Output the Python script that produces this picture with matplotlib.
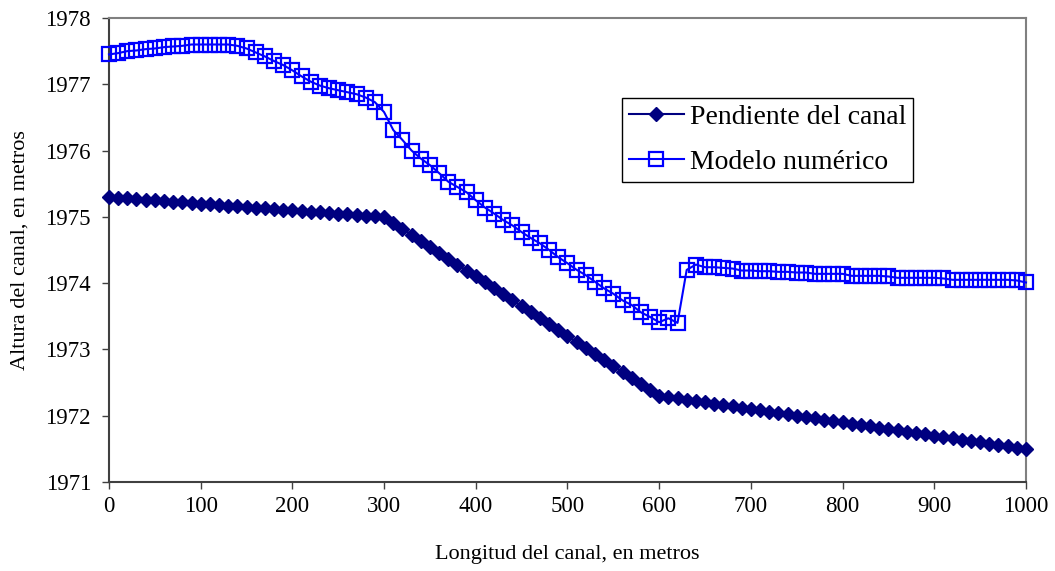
import matplotlib
matplotlib.use("Agg")
import matplotlib.pyplot as plt
import numpy as np

# longitud del canal (m), un punto cada 10 m
longitud = np.arange(0, 1001, 10)

pendiente = [
    1975.30, 1975.29, 1975.28, 1975.27, 1975.26, 1975.25, 1975.24, 1975.23, 1975.22, 1975.21,
    1975.20, 1975.19, 1975.18, 1975.17, 1975.16, 1975.15, 1975.14, 1975.13, 1975.12, 1975.11,
    1975.10, 1975.09, 1975.08, 1975.07, 1975.06, 1975.05, 1975.04, 1975.03, 1975.02, 1975.01,
    1975.00, 1974.91, 1974.82, 1974.73, 1974.64, 1974.55, 1974.46, 1974.37, 1974.28, 1974.19,
    1974.10, 1974.01, 1973.92, 1973.83, 1973.74, 1973.65, 1973.56, 1973.47, 1973.38, 1973.29,
    1973.20, 1973.11, 1973.02, 1972.93, 1972.84, 1972.75, 1972.66, 1972.57, 1972.48, 1972.39,
    1972.30, 1972.28, 1972.26, 1972.24, 1972.22, 1972.20, 1972.18, 1972.16, 1972.14, 1972.12,
    1972.10, 1972.08, 1972.06, 1972.04, 1972.02, 1972.00, 1971.98, 1971.96, 1971.94, 1971.92,
    1971.90, 1971.88, 1971.86, 1971.84, 1971.82, 1971.80, 1971.78, 1971.76, 1971.74, 1971.72,
    1971.70, 1971.68, 1971.66, 1971.64, 1971.62, 1971.60, 1971.58, 1971.56, 1971.54, 1971.52,
    1971.50,
]

modelo = [
    1977.45, 1977.47, 1977.50, 1977.51, 1977.53, 1977.54, 1977.56, 1977.57, 1977.58, 1977.60,
    1977.60, 1977.60, 1977.60, 1977.60, 1977.58, 1977.54, 1977.48, 1977.42, 1977.35, 1977.29,
    1977.21, 1977.12, 1977.04, 1976.98, 1976.94, 1976.91, 1976.88, 1976.85, 1976.80, 1976.73,
    1976.58, 1976.31, 1976.16, 1976.00, 1975.88, 1975.78, 1975.66, 1975.53, 1975.45, 1975.37,
    1975.25, 1975.14, 1975.05, 1974.95, 1974.87, 1974.77, 1974.68, 1974.60, 1974.50, 1974.39,
    1974.30, 1974.20, 1974.12, 1974.02, 1973.92, 1973.84, 1973.74, 1973.67, 1973.56, 1973.49,
    1973.41, 1973.47, 1973.40, 1974.20, 1974.28, 1974.24, 1974.24, 1974.23, 1974.22, 1974.19,
    1974.19, 1974.18, 1974.18, 1974.17, 1974.17, 1974.16, 1974.16, 1974.14, 1974.14, 1974.14,
    1974.14, 1974.11, 1974.11, 1974.11, 1974.11, 1974.10, 1974.08, 1974.08, 1974.08, 1974.08,
    1974.08, 1974.07, 1974.05, 1974.05, 1974.05, 1974.05, 1974.05, 1974.05, 1974.05, 1974.04,
    1974.01,
]

xticks = [0, 100, 200, 300, 400, 500, 600, 700, 800, 900, 1000]
yticks = [1971, 1972, 1973, 1974, 1975, 1976, 1977, 1978]

plt.rcParams['font.family'] = ['Liberation Serif', 'DejaVu Serif']

fig = plt.figure(figsize=(10.55, 5.71), dpi=100)
ax = fig.add_axes([0.1033, 0.1559, 0.8692, 0.8126])

ax.plot(longitud, pendiente, color='#000080', lw=1.5, marker='D', ms=7,
        markerfacecolor='#000080', markeredgecolor='#000080', label='Pendiente del canal',
        clip_on=False, zorder=3)
ax.plot(longitud, modelo, color='#0000ff', lw=1.5, marker='s', ms=9.5,
        markerfacecolor='none', markeredgecolor='#0000ff', markeredgewidth=1.6,
        label='Modelo numérico', clip_on=False, zorder=3)

ax.set_xlim(0, 1000)
ax.set_ylim(1971, 1978)
ax.set_xticks(xticks)
ax.set_yticks(yticks)
ax.tick_params(direction='out', length=5, width=1, labelsize=16.5, color='#404040')
ax.tick_params(axis='y', pad=8)
ax.tick_params(axis='x', pad=5)

for s in ['top', 'right']:
    ax.spines[s].set_color('#808080')
    ax.spines[s].set_linewidth(1.5)
for s in ['left', 'bottom']:
    ax.spines[s].set_color('#404040')
    ax.spines[s].set_linewidth(1.5)

ax.set_xlabel('Longitud del canal, en metros', fontsize=16, labelpad=20)
ax.set_ylabel('Altura del canal, en metros', fontsize=16, labelpad=11)

leg = ax.legend(loc='upper left', bbox_to_anchor=(0.559, 0.828), fontsize=20,
                frameon=True, fancybox=False, edgecolor='black', framealpha=1,
                handlelength=2.0, borderpad=0.25, labelspacing=0.7, handletextpad=0.2,
                borderaxespad=0)
leg.get_frame().set_linewidth(1.0)

fig.savefig('out.png', dpi=100)
